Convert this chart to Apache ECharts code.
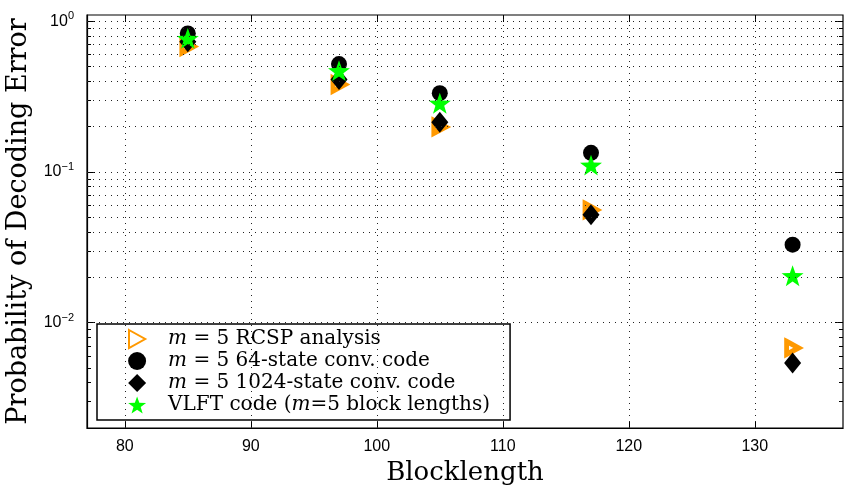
<!DOCTYPE html>
<html><head><meta charset="utf-8">
<script src="https://cdn.jsdelivr.net/npm/echarts@6/dist/echarts.min.js"></script>
<style>html,body{margin:0;padding:0;background:#fff}#c{width:845px;height:487px}</style>
</head><body><div id="c"></div>
<script>
// Data
const blocklengths = [85, 97, 105, 117, 133];
const rcspAnalysis = [0.68, 0.38, 0.199, 0.056, 0.0068];
const conv64 = [0.83, 0.52, 0.333, 0.134, 0.0329];
const conv1024 = [0.73, 0.41, 0.214, 0.052, 0.0054];
const vlft = [0.77, 0.47, 0.286, 0.111, 0.0205];
const xTicks = [80, 90, 100, 110, 120, 130];
const yMajor = [0.01, 0.1, 1];
const yMinor = [0.002, 0.003, 0.004, 0.005, 0.006, 0.007, 0.008, 0.009,
                0.02, 0.03, 0.04, 0.05, 0.06, 0.07, 0.08, 0.09,
                0.2, 0.3, 0.4, 0.5, 0.6, 0.7, 0.8, 0.9];

const pairs = a => blocklengths.map((x, i) => [x, a[i]]);
const serif = '"DejaVu Serif", "Liberation Serif", serif';
const sans = '"Liberation Sans", Arial, sans-serif';
const starPath = 'path://M0,-10 L2.35,-3.24 L9.51,-3.09 L3.8,1.24 L5.88,8.09 L0,4 L-5.88,8.09 L-3.8,1.24 L-9.51,-3.09 L-2.35,-3.24 Z';
const triPath = 'path://M0,0 L9,5 L0,10 Z';
const dotted = { type: [1, 5], color: '#222', width: 1 };
const black = { color: '#000', width: 1 };

const hiddenY = (pos, vals, len) => ({
  type: 'log', logBase: 10, min: 0.002, max: 1.1, position: pos,
  axisLine: { show: false }, axisLabel: { show: false }, splitLine: { show: false },
  axisTick: { show: true, inside: true, length: len, lineStyle: black, customValues: vals }
});

const chart = echarts.init(document.getElementById('c'), null, { renderer: 'canvas' });
chart.setOption({
  animation: false,
  grid: { left: 87, right: 2, top: 15, bottom: 59, outerBoundsMode: 'none', containLabel: false,
          show: true, borderColor: '#000', borderWidth: 1.2, backgroundColor: 'transparent' },
  xAxis: [{
    type: 'value', min: 77, max: 137, interval: 10,
    axisLine: { lineStyle: { color: '#000', width: 1.2 } },
    axisTick: { inside: true, length: 7, lineStyle: black, customValues: xTicks },
    axisLabel: { color: '#000', fontFamily: sans, fontSize: 16, margin: 11, customValues: xTicks },
    splitLine: { show: false },
    name: 'Blocklength', nameLocation: 'middle', nameGap: 30,
    nameTextStyle: { fontFamily: serif, fontSize: 26, color: '#000' }
  }, {
    type: 'value', min: 77, max: 137, interval: 10, position: 'top',
    axisLine: { show: false }, axisLabel: { show: false }, splitLine: { show: false },
    axisTick: { inside: true, length: 7, lineStyle: black, customValues: xTicks }
  }],
  yAxis: [{
    type: 'log', logBase: 10, min: 0.002, max: 1.1,
    axisLine: { lineStyle: { color: '#000', width: 1.2 } },
    axisTick: { inside: true, length: 8, lineStyle: black, customValues: yMajor },
    axisLabel: {
      margin: 13, customValues: yMajor,
      formatter: v => { const e = Math.round(Math.log10(v)); return '{b|10}{e|' + (e < 0 ? '\u2212' + (-e) : e) + '}'; },
      rich: { b: { fontFamily: sans, fontSize: 16, color: '#000' }, e: { fontFamily: sans, fontSize: 11, color: '#000', verticalAlign: 'bottom', padding: [0, 0, 10, 0] } }
    },
    splitLine: { show: false },
    name: 'Probability of Decoding Error', nameLocation: 'middle', nameGap: 41,
    nameTextStyle: { fontFamily: serif, fontSize: 27, color: '#000' }
  },
    hiddenY('left', yMinor, 4),
    hiddenY('right', yMajor, 8),
    hiddenY('right', yMinor, 4)
  ],
  legend: {
    orient: 'vertical', left: 97, top: 324,
    data: ['rcsp', 'c64', 'c1024', 'vlft'],
    backgroundColor: '#fff', borderColor: '#000', borderWidth: 1.5, borderRadius: 0,
    padding: [5, 20, 5, 31], itemWidth: 18, itemHeight: 18, itemGap: 2,
    textStyle: { fontFamily: serif, fontSize: 20, color: '#000', lineHeight: 20, padding: [0, 0, 0, 17],
      rich: { i: { fontFamily: serif, fontSize: 20, fontStyle: 'italic', color: '#000', lineHeight: 20 } } },
    formatter: n => ({
      rcsp: '{i|m} = 5 RCSP analysis',
      c64: '{i|m} = 5 64-state conv. code',
      c1024: '{i|m} = 5 1024-state conv. code',
      vlft: 'VLFT code ({i|m}=5 block lengths)'
    })[n],
    selectedMode: false
  },
  series: [
    {
      name: 'grid', type: 'line', data: [], silent: true,
      markLine: {
        silent: true, symbol: 'none', label: { show: false }, animation: false,
        lineStyle: dotted,
        data: yMinor.concat(yMajor).map(v => ({ yAxis: v })).concat(xTicks.map(x => ({ xAxis: x })))
      }
    },
    {
      name: 'rcsp', type: 'scatter', data: pairs(rcspAnalysis),
      symbol: triPath, symbolSize: [12, 13],
      itemStyle: { color: '#fff', borderColor: '#ff9900', borderWidth: 5, borderJoin: 'miter', opacity: 1 }
    },
    {
      name: 'c64', type: 'scatter', data: pairs(conv64),
      symbol: 'circle', symbolSize: 16, itemStyle: { color: '#000', opacity: 1 }
    },
    {
      name: 'c1024', type: 'scatter', data: pairs(conv1024),
      symbol: 'diamond', symbolSize: [17, 21], itemStyle: { color: '#000', opacity: 1 }
    },
    {
      name: 'vlft', type: 'scatter', data: pairs(vlft),
      symbol: starPath, symbolKeepAspect: true, symbolSize: 22, itemStyle: { color: '#00ff00', opacity: 1 }
    }
  ]
});
</script></body></html>
